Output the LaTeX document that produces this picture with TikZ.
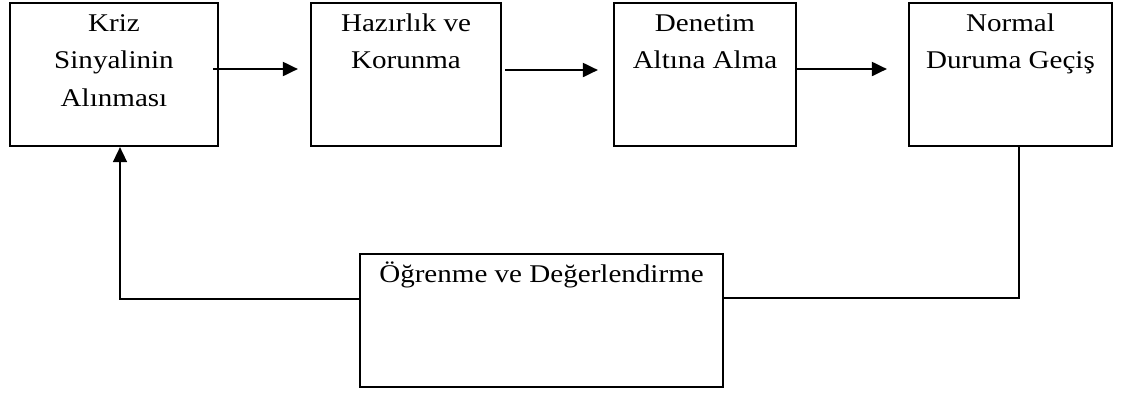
\documentclass[tikz,border=0pt]{standalone}
\usepackage{fontspec}
\setmainfont{Liberation Serif}[FakeStretch=1.14]
\usetikzlibrary{arrows.meta}
\begin{document}
\begin{tikzpicture}[x=1pt,y=-1pt,
  box/.style={draw=black,line width=2.2pt,inner sep=0pt,fill=none},
  txt/.style={font=\fontsize{25.5}{37.5}\selectfont,align=center,inner sep=0pt,anchor=north},
  conn/.style={line width=2pt,-{Triangle[length=15pt,width=14pt]}},
  fb/.style={line width=1.6pt}]
\useasboundingbox (0,0) rectangle (1126,392);
\fill[white] (0,0) rectangle (1126,392);
% boxes
\node[box,minimum width=208pt,minimum height=143pt] (b1) at (114,74.5) {};
\node[box,minimum width=190pt,minimum height=143pt] (b2) at (406,74.5) {};
\node[box,minimum width=182pt,minimum height=143pt] (b3) at (705,74.5) {};
\node[box,minimum width=203pt,minimum height=143pt] (b4) at (1010.5,74.5) {};
\node[box,minimum width=363pt,minimum height=133pt] (b5) at (541.5,320.5) {};
% texts (north = first baseline minus strut height 26.25)
\node[txt] (t1) at (114,4.75) {\strut Kriz\\Sinyalinin\\Alınması};
\node[txt] (t2) at (406,4.75) {\strut Hazırlık ve\\Korunma};
\node[txt] (t3) at (705,4.75) {\strut Denetim\\Altına Alma};
\node[txt] (t4) at (1010.5,4.75) {\strut Normal\\Duruma Geçiş};
\node[txt] (t5) at (541.5,255.75) {\strut Öğrenme ve Değerlendirme};
% arrows
\draw[conn,shorten <=-6pt,shorten >=12pt] (b1.east |- 0,69) -- (b2.west |- 0,69);
\draw[conn,shorten <=3pt,shorten >=15pt] (b2.east |- 0,70) -- (b3.west |- 0,70);
\draw[conn,shorten >=21pt] (b3.east |- 0,69) -- (b4.west |- 0,69);
% feedback
\coordinate (r1) at (1019,298);
\coordinate (l1) at (120,299);
\draw[fb] (b4.south -| r1) -- (r1) -- (b5.east |- r1);
\draw[fb,-{Triangle[length=15pt,width=14pt]}] (b5.west |- l1) -- (l1) -- (b1.south -| l1);
\end{tikzpicture}
\end{document}
